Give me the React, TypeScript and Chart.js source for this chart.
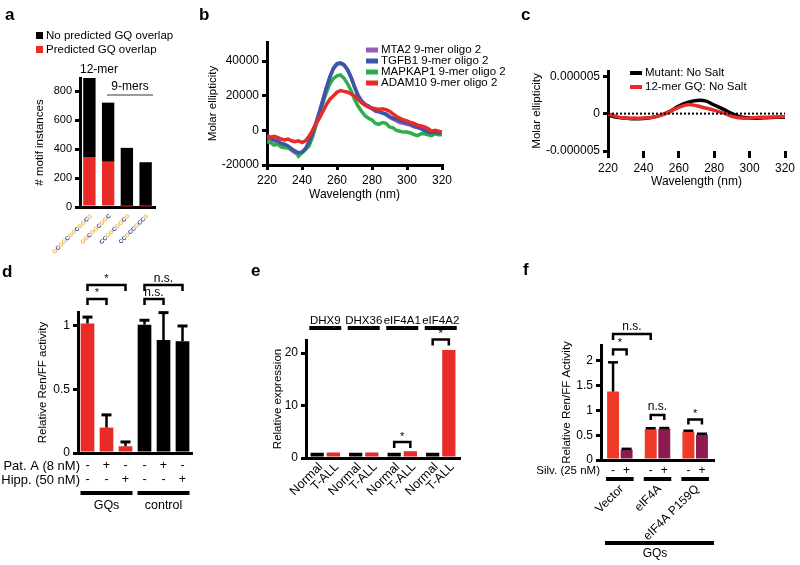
import React, { useEffect, useRef } from 'react';
import { Chart, registerables } from 'chart.js';

Chart.register(...registerables);

const FONT = '"Liberation Sans", Arial, Helvetica, sans-serif';
Chart.defaults.font.family = FONT;
Chart.defaults.color = '#000';

// ---------------- Panel a ----------------
const motifLabels = ['GCGGCGGCGGCG', 'GGCGGCGGC', 'CCGGCGGCG', 'CCGCCGCCG'];
const motifGQ = [345, 312, 4, 4];
const motifNoGQ = [545, 408, 404, 305];
const motifTicks = [0, 200, 400, 600, 800];

// ---------------- Panel b ----------------
const wavelengthB = [220, 222, 224, 226, 228, 230, 232, 234, 236, 238, 240, 242, 244, 246, 248, 250, 252, 254, 256, 258, 260, 262, 264, 266, 268, 270, 272, 274, 276, 278, 280, 282, 284, 286, 288, 290, 292, 294, 296, 298, 300, 302, 304, 306, 308, 310, 312, 314, 316, 318, 320];
const mta2 = [-4000, -5000, -6000, -7000, -8500, -9500, -10000, -11500, -13000, -14000, -13000, -11000, -6500, -1500, 4500, 11000, 18000, 25000, 31000, 35500, 38000, 38500, 37500, 35000, 31000, 25500, 20500, 17000, 15000, 13500, 12500, 11000, 10500, 10000, 9000, 7500, 6500, 5500, 4500, 4000, 3500, 3000, 2000, 1500, 1000, -500, -1000, -1500, -1000, -1500, -1500];
const tgfb1 = [-3000, -4500, -5500, -6000, -7500, -8000, -9000, -10500, -12000, -13000, -12500, -10500, -7000, -2000, 4000, 10500, 17500, 24500, 31000, 36000, 38500, 39000, 38000, 35000, 30500, 25000, 20000, 17000, 15000, 14000, 12500, 11500, 11000, 10000, 9500, 8000, 7000, 6500, 5500, 5000, 4500, 3500, 2500, 2000, 1000, 0, -1000, -1500, -1000, -1500, -1000];
const mapkap1 = [-6500, -7000, -8500, -8000, -9500, -10000, -10000, -11000, -12000, -15000, -13000, -11000, -9000, -4000, 3000, 9000, 16000, 22000, 27000, 30000, 31500, 32000, 30000, 27000, 23000, 18000, 14000, 11000, 8500, 7000, 6000, 4000, 3500, 4500, 4000, 2000, 1500, 0, -500, -1000, -1000, -1500, -2500, -3000, -2000, -2000, -2500, -3000, -2000, -2500, -2500];
const adam10 = [-3000, -4000, -3500, -4000, -5000, -5500, -5000, -6000, -6500, -6000, -7000, -6000, -3500, 0, 4000, 7000, 11000, 15000, 18000, 20000, 22000, 23000, 22500, 22000, 21000, 20000, 18000, 16000, 14500, 13500, 13000, 12500, 12000, 12500, 12000, 11000, 9500, 8000, 7000, 6000, 5500, 4500, 4000, 3000, 2500, 2000, 1000, -500, 0, -500, -1000];
const bSeriesNames = ['MTA2 9-mer oligo 2', 'TGFB1 9-mer oligo 2', 'MAPKAP1 9-mer oligo 2', 'ADAM10 9-mer oligo 2'];
const ellipticityTicksB = [-20000, 0, 20000, 40000];
const wavelengthTicks = [220, 240, 260, 280, 300, 320];

// ---------------- Panel c (values in units of 1e-6) ----------------
const wavelengthC = [220, 225, 230, 235, 240, 245, 250, 255, 260, 265, 270, 275, 280, 285, 290, 295, 300, 305, 310, 315, 320];
const mutantNoSalt = [-0.2, -0.5, -0.6, -0.7, -0.65, -0.5, -0.2, 0.3, 1.0, 1.5, 1.75, 1.7, 1.15, 0.6, 0.0, -0.45, -0.6, -0.6, -0.55, -0.5, -0.5];
const gq12NoSalt = [0.0, -0.4, -0.6, -0.6, -0.6, -0.5, -0.2, 0.3, 0.85, 1.2, 1.05, 0.75, 0.45, 0.1, -0.35, -0.6, -0.6, -0.5, -0.5, -0.45, -0.4];
const ellipticityTicksC = [-5, 0, 5];

// ---------------- Panel d ----------------
const dConditions = ['GQ ctrl', 'GQ PatA', 'GQ Hipp', 'ctrl ctrl', 'ctrl PatA', 'ctrl Hipp'];
const patA = ['-', '+', '-', '-', '+', '-'];
const hipp = ['-', '-', '+', '-', '-', '+'];
const renFF = [1.02, 0.2, 0.053, 1.01, 0.89, 0.88];
const renFFErr = [0.05, 0.1, 0.034, 0.035, 0.215, 0.12];
const dGroups = ['GQs', 'control'];
const dTicks = [0, 0.5, 1];

// ---------------- Panel e ----------------
const helicases = ['DHX9', 'DHX36', 'eIF4A1', 'eIF4A2'];
const exprNormal = [1, 1, 1, 1];
const exprTALL = [1.05, 1.05, 1.3, 20.6];
const eTicks = [0, 10, 20];

// ---------------- Panel f ----------------
const constructs = ['Vector', 'eIF4A', 'eIF4A P159Q'];
const silvMinus = [1.38, 0.62, 0.57];
const silvMinusErr = [0.59, 0.02, 0.02];
const silvPlus = [0.21, 0.63, 0.51];
const silvPlusErr = [0.015, 0.015, 0.02];
const fTicks = [0, 0.5, 1, 1.5, 2];

// ---------------- colours ----------------
const RED = '#ea2a26';
const MAROON = '#8c1c50';
const PURPLE = '#9c5bb5';
const BLUE = '#3b56a8';
const GREEN = '#2eae4a';
const ORANGE_G = '#f2b233';
const BLUE_C = '#2d3d9c';

// ---------------- helpers ----------------
type Box = { left: number; top: number; width: number; height: number };

function txt(ctx: CanvasRenderingContext2D, s: string, x: number, y: number, o: any = {}) {
  ctx.save();
  ctx.font = `${o.bold ? 'bold ' : ''}${o.size || 12}px ${FONT}`;
  ctx.fillStyle = o.color || '#000';
  ctx.textAlign = o.align || 'center';
  ctx.textBaseline = o.base || 'middle';
  ctx.translate(x, y);
  if (o.rot) ctx.rotate(o.rot);
  ctx.fillText(s, 0, 0);
  ctx.restore();
}

function seg(ctx: CanvasRenderingContext2D, x1: number, y1: number, x2: number, y2: number, w = 2, color = '#000') {
  ctx.save();
  ctx.strokeStyle = color;
  ctx.lineWidth = w;
  ctx.lineCap = 'butt';
  ctx.beginPath();
  ctx.moveTo(x1, y1);
  ctx.lineTo(x2, y2);
  ctx.stroke();
  ctx.restore();
}

function bracket(ctx: CanvasRenderingContext2D, x1: number, x2: number, y: number, drop: number, label: string, labelY: number) {
  ctx.save();
  ctx.strokeStyle = '#000';
  ctx.lineWidth = 2.5;
  ctx.lineJoin = 'miter';
  ctx.beginPath();
  ctx.moveTo(x1, y + drop);
  ctx.lineTo(x1, y);
  ctx.lineTo(x2, y);
  ctx.lineTo(x2, y + drop);
  ctx.stroke();
  ctx.restore();
  txt(ctx, label, (x1 + x2) / 2, labelY, { size: label === '*' ? 11 : 12 });
}

function logo(ctx: CanvasRenderingContext2D, seq: string, x: number, y: number) {
  ctx.save();
  ctx.translate(x, y);
  ctx.rotate(-Math.PI / 4);
  ctx.font = `bold 5.9px ${FONT}`;
  ctx.textBaseline = 'middle';
  ctx.textAlign = 'left';
  const w = ctx.measureText(seq).width;
  let cx = -w;
  for (const ch of seq) {
    ctx.fillStyle = ch === 'G' ? ORANGE_G : BLUE_C;
    ctx.fillText(ch, cx, 0);
    cx += ctx.measureText(ch).width;
  }
  ctx.restore();
}

function overlay(box: Box, draw: (ctx: CanvasRenderingContext2D, chart: any) => void) {
  return {
    id: 'overlay',
    afterDraw(chart: any) {
      const ctx = chart.ctx as CanvasRenderingContext2D;
      ctx.save();
      ctx.translate(-box.left, -box.top);
      draw(ctx, chart);
      ctx.restore();
    },
  };
}

const tickGrid = (len: number) => ({ display: true, drawOnChartArea: false, drawTicks: true, tickLength: len, lineWidth: 3, color: '#000' });
const axisBorder = { display: true, width: 3, color: '#000' };

function yScale(o: { min: number; max: number; ticks: number[]; width: number; title: string; fmt?: (v: number) => string; size?: number; stacked?: boolean }) {
  return {
    type: 'linear',
    position: 'left',
    min: o.min,
    max: o.max,
    stacked: o.stacked,
    afterBuildTicks: (s: any) => {
      s.ticks = o.ticks.map((v) => ({ value: v }));
    },
    afterFit: (s: any) => {
      s.width = o.width;
    },
    grid: tickGrid(5),
    border: axisBorder,
    ticks: {
      color: '#000',
      padding: 3,
      autoSkip: false,
      font: { size: o.size ?? 12, family: FONT },
      callback: (v: number) => (o.fmt ? o.fmt(v) : String(v)),
    },
    title: { display: true, text: o.title, color: '#000', font: { size: 11.5, family: FONT }, padding: { top: 4, bottom: 4 } },
  };
}

function xCat(height: number, stacked = false) {
  return {
    type: 'category',
    offset: true,
    stacked,
    afterFit: (s: any) => {
      s.height = height;
    },
    grid: { display: false },
    border: axisBorder,
    ticks: { display: false },
  };
}

function xWave(height: number, showBorder: boolean, tickLen: number) {
  return {
    type: 'linear',
    position: 'bottom',
    min: 220,
    max: 320,
    afterBuildTicks: (s: any) => {
      s.ticks = wavelengthTicks.map((v) => ({ value: v }));
    },
    afterFit: (s: any) => {
      s.height = height;
    },
    grid: tickGrid(tickLen),
    border: showBorder ? axisBorder : { display: false },
    ticks: { color: '#000', padding: 3, maxRotation: 0, autoSkip: false, font: { size: 12, family: FONT }, callback: (v: number) => String(v) },
    title: { display: true, text: 'Wavelength (nm)', color: '#000', font: { size: 12, family: FONT }, padding: { top: 2, bottom: 4 } },
  };
}

function base(padding: any) {
  return {
    responsive: false,
    animation: false,
    devicePixelRatio: 1,
    events: [],
    layout: { padding },
    plugins: { legend: { display: false }, tooltip: { enabled: false } },
  };
}

// ---------------- panel configs ----------------
const boxA: Box = { left: 0, top: 0, width: 190, height: 260 };
const boxB: Box = { left: 190, top: 0, width: 330, height: 260 };
const boxC: Box = { left: 500, top: 0, width: 300, height: 260 };
const boxD: Box = { left: 0, top: 260, width: 250, height: 305 };
const boxE: Box = { left: 250, top: 260, width: 270, height: 305 };
const boxF: Box = { left: 520, top: 260, width: 280, height: 305 };

function configA(box: Box): any {
  return {
    type: 'bar',
    data: {
      labels: motifLabels,
      datasets: [
        { label: 'Predicted GQ overlap', data: motifGQ, backgroundColor: RED, barPercentage: 0.66, categoryPercentage: 1 },
        { label: 'No predicted GQ overlap', data: motifNoGQ, backgroundColor: '#000', barPercentage: 0.66, categoryPercentage: 1 },
      ],
    },
    options: {
      ...base({ left: 29, top: 78, right: 35, bottom: 0 }),
      scales: {
        x: xCat(53, true),
        y: yScale({ min: 0, max: 890, ticks: motifTicks, width: 51, title: '# motif instances', size: 11, stacked: true }),
      },
    },
    plugins: [
      overlay(box, (ctx, chart) => {
        txt(ctx, 'a', 5, 20, { bold: true, size: 17, align: 'left', base: 'alphabetic' });
        ctx.fillStyle = '#000';
        ctx.fillRect(36, 32, 7, 7);
        txt(ctx, 'No predicted GQ overlap', 46, 36, { size: 11.5, align: 'left' });
        ctx.fillStyle = RED;
        ctx.fillRect(36, 46, 7, 7);
        txt(ctx, 'Predicted GQ overlap', 46, 50, { size: 11.5, align: 'left' });
        txt(ctx, '12-mer', 99, 70, { size: 12 });
        txt(ctx, '9-mers', 130, 87, { size: 12 });
        seg(ctx, 107, 95, 153, 95, 2, '#9a9a9a');
        const xs = chart.scales.x;
        motifLabels.forEach((s, i) => logo(ctx, s, xs.getPixelForValue(i) + box.left + 2, 215));
      }),
    ],
  };
}

function configB(box: Box): any {
  const mk = (label: string, ys: number[], color: string, order: number) => ({
    label,
    data: wavelengthB.map((x, i) => ({ x, y: ys[i] })),
    borderColor: color,
    backgroundColor: color,
    borderWidth: 3.5,
    pointRadius: 0,
    tension: 0,
    order,
  });
  const colors = [PURPLE, BLUE, GREEN, RED];
  return {
    type: 'line',
    data: {
      datasets: [mk(bSeriesNames[0], mta2, PURPLE, 3), mk(bSeriesNames[1], tgfb1, BLUE, 1), mk(bSeriesNames[2], mapkap1, GREEN, 2), mk(bSeriesNames[3], adam10, RED, 0)],
    },
    options: {
      ...base({ left: 12, top: 42, right: 78, bottom: 54 }),
      scales: {
        x: xWave(41, true, 5),
        y: yScale({ min: -20000, max: 51000, ticks: ellipticityTicksB, width: 65, title: 'Molar ellipticity' }),
      },
    },
    plugins: [
      overlay(box, (ctx) => {
        txt(ctx, 'b', 199, 20, { bold: true, size: 17, align: 'left', base: 'alphabetic' });
        const rows = [50, 61, 72, 83];
        bSeriesNames.forEach((n, i) => {
          ctx.fillStyle = colors[i];
          ctx.fillRect(366, rows[i] - 2.5, 12, 5);
          txt(ctx, n, 381, rows[i], { size: 11.5, align: 'left' });
        });
      }),
    ],
  };
}

function configC(box: Box): any {
  return {
    type: 'line',
    data: {
      datasets: [
        { label: 'zero', data: [{ x: 220, y: 0 }, { x: 320, y: 0 }], borderColor: '#000', borderWidth: 2, borderDash: [2, 2], pointRadius: 0, order: 0 },
        { label: '12-mer GQ: No Salt', data: wavelengthC.map((x, i) => ({ x, y: gq12NoSalt[i] })), borderColor: RED, borderWidth: 3.5, pointRadius: 0, tension: 0.35, order: 1 },
        { label: 'Mutant: No Salt', data: wavelengthC.map((x, i) => ({ x, y: mutantNoSalt[i] })), borderColor: '#000', borderWidth: 3.5, pointRadius: 0, tension: 0.35, order: 2 },
      ],
    },
    options: {
      ...base({ left: 26, top: 71, right: 15, bottom: 67 }),
      scales: {
        x: xWave(42, false, 7),
        y: yScale({ min: -5, max: 5.7, ticks: ellipticityTicksC, width: 82, title: 'Molar ellipticity', fmt: (v) => (v === 0 ? '0' : (v * 1e-6).toFixed(6)) }),
      },
    },
    plugins: [
      overlay(box, (ctx) => {
        txt(ctx, 'c', 521, 20, { bold: true, size: 17, align: 'left', base: 'alphabetic' });
        ctx.fillStyle = '#000';
        ctx.fillRect(630, 71, 12, 4);
        txt(ctx, 'Mutant: No Salt', 645, 73, { size: 11.5, align: 'left' });
        ctx.fillStyle = RED;
        ctx.fillRect(630, 85, 12, 4);
        txt(ctx, '12-mer GQ: No Salt', 645, 87, { size: 11.5, align: 'left' });
      }),
    ],
  };
}

function configD(box: Box): any {
  return {
    type: 'bar',
    data: {
      labels: dConditions,
      datasets: [{ label: 'Relative Ren/FF activity', data: renFF, backgroundColor: [RED, RED, RED, '#000', '#000', '#000'], barPercentage: 0.72, categoryPercentage: 1 }],
    },
    options: {
      ...base({ left: 32, top: 52, right: 58, bottom: 0 }),
      scales: {
        x: xCat(112),
        y: yScale({ min: 0, max: 1.11, ticks: dTicks, width: 46, title: 'Relative Ren/FF activity' }),
      },
    },
    plugins: [
      overlay(box, (ctx, chart) => {
        const ox = box.left;
        const oy = box.top;
        const meta = chart.getDatasetMeta(0);
        const X = (i: number) => meta.data[i].x + ox;
        const Y = (v: number) => chart.scales.y.getPixelForValue(v) + oy;
        txt(ctx, 'd', 2, 277, { bold: true, size: 17, align: 'left', base: 'alphabetic' });
        renFF.forEach((v, i) => {
          const x = X(i);
          seg(ctx, x, Y(v), x, Y(v + renFFErr[i]), 2.5);
          seg(ctx, x - 5, Y(v + renFFErr[i]), x + 5, Y(v + renFFErr[i]), 3);
        });
        bracket(ctx, X(0), X(2), 285, 6, '*', 279);
        bracket(ctx, X(0), X(1), 299, 6, '*', 293);
        bracket(ctx, X(3), X(5), 285, 6, 'n.s.', 279);
        bracket(ctx, X(3), X(4), 299, 6, 'n.s.', 293);
        txt(ctx, 'Pat. A (8 nM)', 80, 466, { size: 13, align: 'right' });
        txt(ctx, 'Hipp. (50 nM)', 80, 480, { size: 13, align: 'right' });
        patA.forEach((s, i) => txt(ctx, s, X(i), 466, { size: 12.5 }));
        hipp.forEach((s, i) => txt(ctx, s, X(i), 480, { size: 12.5 }));
        dGroups.forEach((g, k) => {
          const a = X(k * 3) - 7;
          const b = X(k * 3 + 2) + 7;
          seg(ctx, a, 493, b, 493, 4);
          txt(ctx, g, (a + b) / 2, 506, { size: 12.5 });
        });
      }),
    ],
  };
}

function configE(box: Box): any {
  return {
    type: 'bar',
    data: {
      labels: helicases,
      datasets: [
        { label: 'Normal', data: exprNormal, backgroundColor: '#000', barPercentage: 0.82, categoryPercentage: 0.84 },
        { label: 'T-ALL', data: exprTALL, backgroundColor: RED, barPercentage: 0.82, categoryPercentage: 0.84 },
      ],
    },
    options: {
      ...base({ left: 17, top: 80, right: 60, bottom: 0 }),
      scales: {
        x: xCat(107),
        y: yScale({ min: 0, max: 22.5, ticks: eTicks, width: 39, title: 'Relative expression' }),
      },
    },
    plugins: [
      overlay(box, (ctx, chart) => {
        const ox = box.left;
        const X = (d: number, i: number) => chart.getDatasetMeta(d).data[i].x + ox;
        txt(ctx, 'e', 251, 276, { bold: true, size: 17, align: 'left', base: 'alphabetic' });
        helicases.forEach((h, c) => {
          const cx = chart.scales.x.getPixelForValue(c) + ox;
          txt(ctx, h, cx, 321, { size: 11.5 });
          seg(ctx, cx - 16, 328, cx + 16, 328, 4);
          txt(ctx, 'Normal', X(0, c) + 3.5, 465, { size: 12.5, align: 'right', rot: -Math.PI / 4 });
          txt(ctx, 'T-ALL', X(1, c) + 3.5, 465, { size: 12.5, align: 'right', rot: -Math.PI / 4 });
        });
        bracket(ctx, X(0, 3), X(1, 3), 339.5, 6, '*', 334);
        bracket(ctx, X(0, 2), X(1, 2), 442, 6, '*', 436.5);
      }),
    ],
  };
}

function configF(box: Box): any {
  return {
    type: 'bar',
    data: {
      labels: constructs,
      datasets: [
        { label: 'Silv. -', data: silvMinus, backgroundColor: '#ee3a27', barPercentage: 0.88, categoryPercentage: 0.72 },
        { label: 'Silv. +', data: silvPlus, backgroundColor: MAROON, barPercentage: 0.88, categoryPercentage: 0.72 },
      ],
    },
    options: {
      ...base({ left: 36, top: 85, right: 86, bottom: 0 }),
      scales: {
        x: xCat(105),
        y: yScale({ min: 0, max: 2.32, ticks: fTicks, width: 45, title: 'Relative Ren/FF Activity' }),
      },
    },
    plugins: [
      overlay(box, (ctx, chart) => {
        const ox = box.left;
        const oy = box.top;
        const X = (d: number, i: number) => chart.getDatasetMeta(d).data[i].x + ox;
        const Y = (v: number) => chart.scales.y.getPixelForValue(v) + oy;
        txt(ctx, 'f', 523, 275, { bold: true, size: 17, align: 'left', base: 'alphabetic' });
        const err = (d: number, vals: number[], errs: number[]) =>
          vals.forEach((v, i) => {
            const x = X(d, i);
            seg(ctx, x, Y(v), x, Y(v + errs[i]), 2.5);
            seg(ctx, x - 5, Y(v + errs[i]), x + 5, Y(v + errs[i]), 2.5);
          });
        err(0, silvMinus, silvMinusErr);
        err(1, silvPlus, silvPlusErr);
        bracket(ctx, X(0, 0), X(0, 1), 334, 6, 'n.s.', 327);
        bracket(ctx, X(0, 0), X(1, 0), 349.5, 6, '*', 343);
        bracket(ctx, X(0, 1), X(1, 1), 415, 5, 'n.s.', 407);
        bracket(ctx, X(0, 2), X(1, 2), 419.5, 5, '*', 413.5);
        txt(ctx, 'Silv. (25 nM)', 600, 471, { size: 11.5, align: 'right' });
        constructs.forEach((c, i) => {
          txt(ctx, '-', X(0, i), 471, { size: 12 });
          txt(ctx, '+', X(1, i), 471, { size: 12 });
          seg(ctx, X(0, i) - 7, 479, X(1, i) + 7, 479, 4);
          const mid = (X(0, i) + X(1, i)) / 2;
          txt(ctx, c, mid + 2, 487, { size: 12, align: 'right', rot: -Math.PI / 4 });
        });
        seg(ctx, 605, 543, 714, 543, 4);
        txt(ctx, 'GQs', 655, 554, { size: 12 });
      }),
    ],
  };
}

function Panel({ box, make }: { box: Box; make: (b: Box) => any }) {
  const ref = useRef<HTMLCanvasElement | null>(null);
  useEffect(() => {
    const chart = new Chart(ref.current as HTMLCanvasElement, make(box));
    return () => chart.destroy();
  }, []);
  return (
    <canvas
      ref={ref}
      width={box.width}
      height={box.height}
      style={{ position: 'absolute', left: box.left, top: box.top, width: box.width, height: box.height, display: 'block' }}
    />
  );
}

export default function App() {
  return (
    <div style={{ position: 'absolute', left: 0, top: 0, width: 800, height: 565, background: '#fff', overflow: 'hidden' }}>
      <Panel box={boxA} make={configA} />
      <Panel box={boxB} make={configB} />
      <Panel box={boxC} make={configC} />
      <Panel box={boxD} make={configD} />
      <Panel box={boxE} make={configE} />
      <Panel box={boxF} make={configF} />
    </div>
  );
}
